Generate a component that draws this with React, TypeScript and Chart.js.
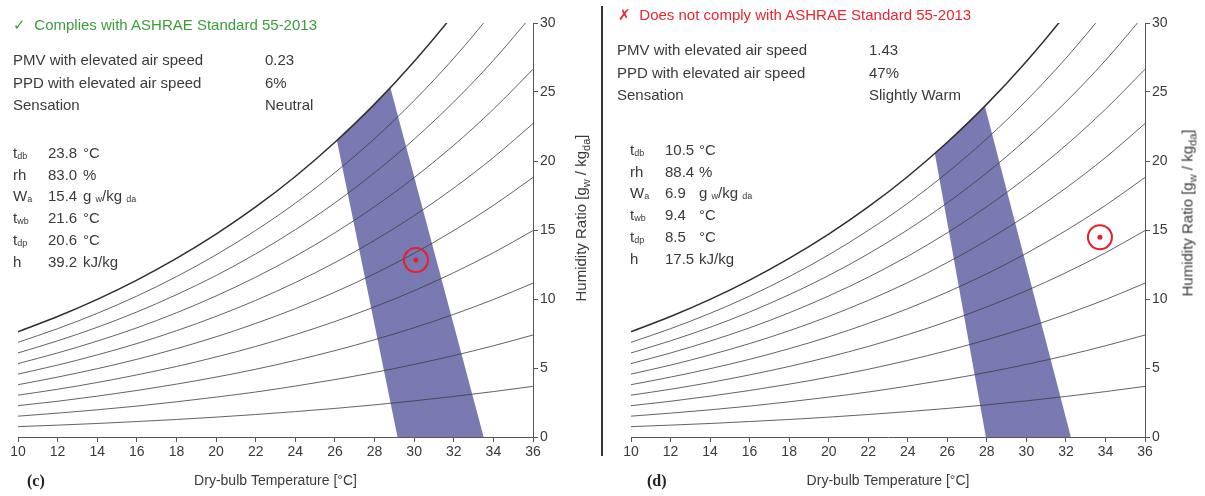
import React, { useEffect, useRef } from "react";
import { Chart, registerables } from "chart.js";

Chart.register(...registerables);

// ---- Data ----
const temps = [10, 12, 14, 16, 18, 20, 22, 24, 26, 28, 30, 32, 34, 36];
const rh10 = [0.75, 0.86, 0.98, 1.12, 1.27, 1.44, 1.63, 1.84, 2.07, 2.33, 2.62, 2.94, 3.29, 3.67];
const rh20 = [1.51, 1.73, 1.97, 2.24, 2.55, 2.89, 3.26, 3.69, 4.16, 4.68, 5.26, 5.9, 6.61, 7.39];
const rh30 = [2.27, 2.59, 2.96, 3.37, 3.83, 4.34, 4.91, 5.55, 6.26, 7.05, 7.92, 8.89, 9.96, 11.15];
const rh40 = [3.03, 3.46, 3.95, 4.5, 5.11, 5.8, 6.56, 7.42, 8.37, 9.43, 10.6, 11.91, 13.35, 14.96];
const rh50 = [3.79, 4.34, 4.95, 5.63, 6.4, 7.26, 8.23, 9.3, 10.5, 11.83, 13.31, 14.96, 16.78, 18.81];
const rh60 = [4.56, 5.21, 5.95, 6.77, 7.7, 8.74, 9.9, 11.19, 12.64, 14.25, 16.04, 18.04, 20.25, 22.71];
const rh70 = [5.32, 6.09, 6.95, 7.91, 9.0, 10.22, 11.58, 13.1, 14.8, 16.69, 18.8, 21.14, 23.75, 26.65];
const rh80 = [6.09, 6.97, 7.95, 9.06, 10.31, 11.7, 13.27, 15.02, 16.97, 19.15, 21.58, 24.28, 27.29, 30.65];
const rh90 = [6.86, 7.85, 8.96, 10.21, 11.62, 13.2, 14.97, 16.94, 19.16, 21.62, 24.38, 27.45, 30.88, 34.69];
const rh100 = [7.63, 8.73, 9.97, 11.37, 12.94, 14.7, 16.67, 18.88, 21.36, 24.12, 27.21, 30.65, 34.5, 38.79];

// comfort zones: [dry-bulb °C, humidity ratio g/kg]
const zoneC = [[26.1, 21.49], [27, 22.69], [28, 24.12], [28.8, 25.31], [33.51, 0], [29.16, 0]];
const zoneD = [[25.37, 20.54], [26, 21.36], [27, 22.69], [27.9, 23.97], [32.25, 0], [27.95, 0]];
const pointC = [30.09, 12.83];
const pointD = [33.72, 14.47];

const xTickValues = [10, 12, 14, 16, 18, 20, 22, 24, 26, 28, 30, 32, 34, 36];
const yTickValues = [0, 5, 10, 15, 20, 25, 30];

const infoLabels = ["PMV with elevated air speed", "PPD with elevated air speed", "Sensation"];
const infoC = ["0.23", "6%", "Neutral"];
const infoD = ["1.43", "47%", "Slightly Warm"];
const stateC = ["23.8", "83.0", "15.4", "21.6", "20.6", "39.2"];
const stateD = ["10.5", "88.4", "6.9", "9.4", "8.5", "17.5"];

const FONT = "'Liberation Sans', Arial, sans-serif";
const TEXT = "#3a3a3a";

function PsyChart(props: {
  left: number;
  width: number;
  padLeft: number;
  axisWidth: number;
  zone: number[][];
  point: number[];
}) {
  const ref = useRef<HTMLCanvasElement>(null);
  useEffect(() => {
    const curves = [rh10, rh20, rh30, rh40, rh50, rh60, rh70, rh80, rh90, rh100];
    const datasets: any[] = [];
    datasets.push({
      data: props.zone.map(([x, y]) => ({ x, y })),
      fill: "shape",
      backgroundColor: "rgba(40,40,130,0.62)",
      borderWidth: 0,
      pointRadius: 0,
      tension: 0,
      order: 5,
    });
    curves.forEach((arr, i) => {
      const sat = i === curves.length - 1;
      datasets.push({
        data: temps.map((t, j) => ({ x: t, y: arr[j] })),
        borderColor: sat ? "#2e2e2e" : "rgba(60,60,60,0.8)",
        borderWidth: sat ? 1.5 : 1,
        pointRadius: 0,
        fill: false,
        cubicInterpolationMode: "monotone",
        order: 3,
      });
    });
    datasets.push({
      data: [{ x: props.point[0], y: props.point[1] }],
      showLine: false,
      pointRadius: 12,
      pointBorderWidth: 2,
      pointBorderColor: "rgb(232,30,40)",
      pointBackgroundColor: "rgba(0,0,0,0)",
      order: 1,
    });
    datasets.push({
      data: [{ x: props.point[0], y: props.point[1] }],
      showLine: false,
      pointRadius: 2.5,
      pointBorderWidth: 0,
      pointBackgroundColor: "rgb(232,30,40)",
      order: 0,
    });

    const chart = new Chart(ref.current as HTMLCanvasElement, {
      type: "line",
      data: { datasets },
      options: {
        responsive: false,
        animation: false,
        events: [],
        layout: { padding: { left: props.padLeft, top: 23, right: 0, bottom: 0 } },
        plugins: { legend: { display: false }, tooltip: { enabled: false } },
        scales: {
          x: {
            type: "linear",
            min: 10,
            max: 36,
            afterBuildTicks: (scale: any) => {
              scale.ticks = xTickValues.map((v) => ({ value: v }));
            },
            afterFit: (scale: any) => {
              scale.height = 59;
            },
            ticks: {
              autoSkip: false,
              maxRotation: 0,
              color: TEXT,
              padding: 2,
              font: { family: FONT, size: 14 },
            },
            grid: { drawOnChartArea: false, drawTicks: true, tickLength: 5, color: "#555" },
            border: { display: true, color: "#555", width: 1 },
            title: {
              display: true,
              text: "Dry-bulb Temperature [°C]",
              color: TEXT,
              font: { family: FONT, size: 14 },
              padding: { top: 4, bottom: 6 },
            },
          },
          y: {
            type: "linear",
            position: "right",
            min: 0,
            max: 30,
            afterBuildTicks: (scale: any) => {
              scale.ticks = yTickValues.map((v) => ({ value: v }));
            },
            afterFit: (scale: any) => {
              scale.width = props.axisWidth;
            },
            ticks: {
              color: TEXT,
              padding: 2,
              font: { family: FONT, size: 14 },
            },
            grid: { drawOnChartArea: false, drawTicks: true, tickLength: 5, color: "#555" },
            border: { display: true, color: "#555", width: 1 },
          },
        },
      } as any,
    });
    return () => chart.destroy();
  }, []);
  return (
    <canvas
      ref={ref}
      width={props.width}
      height={496}
      style={{ position: "absolute", left: props.left, top: 0, width: props.width, height: 496 }}
    />
  );
}

function T(props: { x: number; y: number; children: any; style?: any }) {
  return (
    <div
      style={{
        position: "absolute",
        left: props.x,
        top: props.y - 9,
        lineHeight: "18px",
        fontSize: 15,
        fontFamily: FONT,
        color: TEXT,
        whiteSpace: "nowrap",
        ...(props.style || {}),
      }}
    >
      {props.children}
    </div>
  );
}

const small = { fontSize: 9, verticalAlign: -1 };

function Info(props: {
  titleX: number;
  titleY: number;
  ok: boolean;
  status: string;
  infoX: number;
  infoY: number;
  valX: number;
  values: string[];
  stX: number;
  stY: number;
  stVal: number;
  stUnit: number;
  state: string[];
}) {
  const rows = [
    [<span>t<span style={small}>db</span></span>, <span>°C</span>],
    [<span>rh</span>, <span>%</span>],
    [<span>W<span style={small}>a</span></span>, <span>g <span style={small}>w</span>/kg <span style={small}>da</span></span>],
    [<span>t<span style={small}>wb</span></span>, <span>°C</span>],
    [<span>t<span style={small}>dp</span></span>, <span>°C</span>],
    [<span>h</span>, <span>kJ/kg</span>],
  ];
  const color = props.ok ? "#3c9c3c" : "rgb(235,38,45)";
  return (
    <>
      <T x={props.titleX} y={props.titleY} style={{ color }}>
        {props.ok ? "✓" : "✗"}&nbsp;&nbsp;{props.status}
      </T>
      {infoLabels.map((l, i) => (
        <React.Fragment key={l}>
          <T x={props.infoX} y={props.infoY + i * 22.5}>{l}</T>
          <T x={props.valX} y={props.infoY + i * 22.5}>{props.values[i]}</T>
        </React.Fragment>
      ))}
      {rows.map((r, i) => (
        <React.Fragment key={i}>
          <T x={props.stX} y={props.stY + i * 21.7}>{r[0]}</T>
          <T x={props.stVal} y={props.stY + i * 21.7}>{props.state[i]}</T>
          <T x={props.stUnit} y={props.stY + i * 21.7}>{r[1]}</T>
        </React.Fragment>
      ))}
    </>
  );
}

function YTitle(props: { x: number; y: number }) {
  return (
    <div
      style={{
        position: "absolute",
        left: props.x,
        top: props.y,
        transform: "translate(-50%,-50%) rotate(-90deg)",
        fontFamily: FONT,
        fontSize: 15,
        color: TEXT,
        whiteSpace: "nowrap",
        lineHeight: "18px",
      }}
    >
      Humidity Ratio [g<span style={{ fontSize: 11, verticalAlign: -4 }}>w</span> / kg
      <span style={{ fontSize: 11, verticalAlign: -4 }}>da</span>]
    </div>
  );
}

export default function App() {
  return (
    <div style={{ position: "absolute", left: 0, top: 0, width: 1205, height: 496, background: "#fff", overflow: "hidden" }}>
      <PsyChart left={0} width={600} padLeft={18} axisWidth={67} zone={zoneC} point={pointC} />
      <PsyChart left={600} width={605} padLeft={31} axisWidth={60} zone={zoneD} point={pointD} />
      <div style={{ position: "absolute", left: 601, top: 6, width: 2, height: 450, background: "#333" }} />
      <Info
        titleX={13} titleY={25} ok={true} status="Complies with ASHRAE Standard 55-2013"
        infoX={13} infoY={60} valX={265} values={infoC}
        stX={13} stY={153} stVal={48} stUnit={83} state={stateC}
      />
      <Info
        titleX={618} titleY={15} ok={false} status="Does not comply with ASHRAE Standard 55-2013"
        infoX={617} infoY={50} valX={869} values={infoD}
        stX={630} stY={150} stVal={665} stUnit={699} state={stateD}
      />
      <YTitle x={583} y={218} />
      <YTitle x={1190} y={213} />
      <div style={{ position: "absolute", left: 27, top: 472, fontFamily: "'Liberation Serif', 'Times New Roman', serif", fontWeight: "bold", fontSize: 16, lineHeight: "18px", color: "#222" }}>(c)</div>
      <div style={{ position: "absolute", left: 647, top: 472, fontFamily: "'Liberation Serif', 'Times New Roman', serif", fontWeight: "bold", fontSize: 16, lineHeight: "18px", color: "#222" }}>(d)</div>
    </div>
  );
}
